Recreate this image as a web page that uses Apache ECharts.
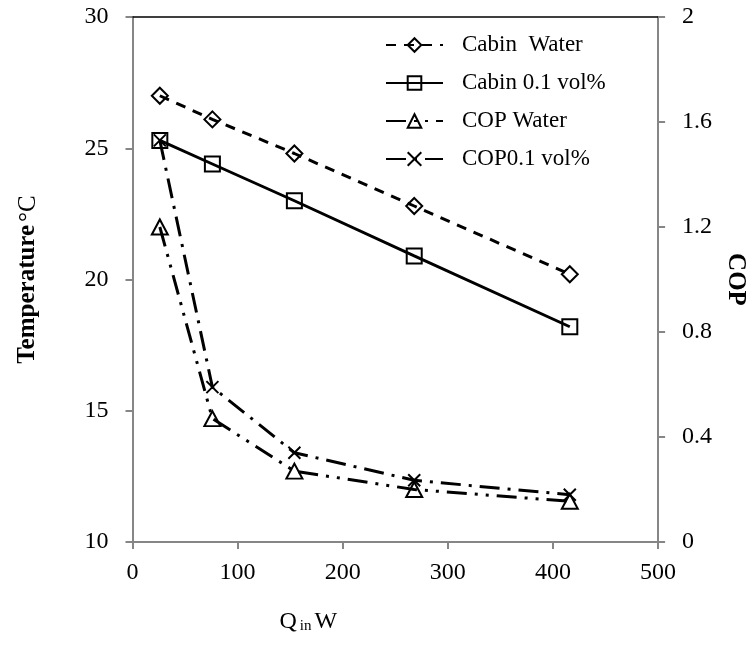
<!DOCTYPE html>
<html>
<head>
<meta charset="utf-8">
<script src="https://cdn.jsdelivr.net/npm/echarts@6/dist/echarts.min.js"></script>
<style>
html,body{margin:0;padding:0;background:#fff;}
#chart{width:756px;height:646px;}
</style>
</head>
<body>
<div id="chart"></div>
<script>
// Data
const qIn = [26, 76, 154, 268, 416];
const cabinWater = [27.0, 26.1, 24.8, 22.8, 20.2];
const cabinNano = [25.3, 24.4, 23.0, 20.9, 18.2];
const copWater = [1.20, 0.47, 0.27, 0.20, 0.155];
const copNano = [1.53, 0.59, 0.34, 0.235, 0.18];
const seriesNames = ['Cabin  Water', 'Cabin 0.1 vol%', 'COP Water', 'COP0.1 vol%'];
const xTicks = [0, 100, 200, 300, 400, 500];
const tempTicks = [10, 15, 20, 25, 30];
const copTicks = [0, 0.4, 0.8, 1.2, 1.6, 2];

const pair = (xs, ys) => xs.map((x, i) => [x, ys[i]]);
const FONT = '"Liberation Serif", "Times New Roman", serif';
const GRAY = '#868686';
const xMark = 'path://M0,0L10,10M0,10L10,0';

const chart = echarts.init(document.getElementById('chart'), null, {renderer: 'canvas'});

function lineSeries(name, data, yIdx, dash, symbol, size) {
  return {
    name: name, type: 'line', xAxisIndex: 0, yAxisIndex: yIdx,
    data: data, symbol: symbol, symbolSize: size, showSymbol: true,
    animation: false,
    lineStyle: {color: '#000', width: 3, type: dash, cap: 'butt'},
    itemStyle: {color: 'rgba(0,0,0,0)', borderColor: '#000', borderWidth: 2},
    emphasis: {disabled: true}
  };
}

const option = {
  animation: false,
  textStyle: {fontFamily: FONT},
  grid: {left: 132.5, right: 83, top: 17, bottom: 104, containLabel: false},
  legend: {
    data: seriesNames,
    orient: 'vertical',
    left: 385, top: 33,
    padding: 0,
    itemWidth: 57, itemHeight: 17, itemGap: 14,
    textStyle: {fontFamily: FONT, fontSize: 23, color: '#000', lineHeight: 24, padding: [0, 0, 0, 14]},
    selectedMode: false
  },
  xAxis: [{
    type: 'value', min: 0, max: 500, interval: 100, position: 'bottom',
    axisLine: {show: true, onZero: false, lineStyle: {color: GRAY, width: 2}},
    axisTick: {show: true, inside: false, length: 7, lineStyle: {color: GRAY, width: 2}},
    axisLabel: {color: '#000', fontSize: 24, fontFamily: FONT, margin: 19,
      formatter: v => xTicks.includes(v) ? String(v) : ''},
    splitLine: {show: false},
    name: '{q|Q} {s|in} {q|W}',
    nameLocation: 'middle', nameGap: 67,
    nameTextStyle: {padding: [0, 174, 0, 0],
      rich: {q: {fontSize: 24, fontFamily: FONT, color: '#000'},
             s: {fontSize: 15, fontFamily: FONT, color: '#000', verticalAlign: 'bottom', padding: [10, 0, 0, 0]}}}
  }, {
    type: 'value', min: 0, max: 500, position: 'top',
    axisLine: {show: true, onZero: false, lineStyle: {color: '#000', width: 1.5}},
    axisTick: {show: false}, axisLabel: {show: false}, splitLine: {show: false}
  }],
  yAxis: [{
    type: 'value', min: 10, max: 30, interval: 5, position: 'left',
    axisLine: {show: true, onZero: false, lineStyle: {color: GRAY, width: 2}},
    axisTick: {show: true, inside: false, length: 7, lineStyle: {color: GRAY, width: 2}},
    axisLabel: {color: '#000', fontSize: 24, fontFamily: FONT, margin: 24,
      formatter: v => tempTicks.includes(v) ? String(v) : ''},
    splitLine: {show: false},
    name: '{b|Temperature} {n|°C}',
    nameLocation: 'middle', nameGap: 92, nameRotate: 90,
    nameTextStyle: {rich: {b: {fontSize: 25, fontWeight: 'bold', fontFamily: FONT, color: '#000'},
                           n: {fontSize: 25, fontFamily: FONT, color: '#000'}}}
  }, {
    type: 'value', min: 0, max: 2, interval: 0.4, position: 'right',
    axisLine: {show: true, onZero: false, lineStyle: {color: GRAY, width: 2}},
    axisTick: {show: true, inside: false, length: 7, lineStyle: {color: GRAY, width: 2}},
    axisLabel: {color: '#000', fontSize: 24, fontFamily: FONT, margin: 24,
      formatter: v => { const t = copTicks.find(c => Math.abs(c - v) < 1e-6); return t === undefined ? '' : String(t); }},
    splitLine: {show: false},
    name: 'COP',
    nameLocation: 'middle', nameGap: 55, nameRotate: -90,
    nameTextStyle: {fontSize: 25, fontWeight: 'bold', fontFamily: FONT, color: '#000'}
  }],
  series: [
    lineSeries(seriesNames[0], pair(qIn, cabinWater), 0, [10, 8], 'diamond', 16),
    lineSeries(seriesNames[1], pair(qIn, cabinNano), 0, 'solid', 'rect', 15),
    lineSeries(seriesNames[2], pair(qIn, copWater), 1, [20, 8, 3, 8, 3, 8], 'triangle', [16, 15]),
    lineSeries(seriesNames[3], pair(qIn, copNano), 1, [20, 8, 3, 8], xMark, 12)
  ]
};
chart.setOption(option);
</script>
</body>
</html>
